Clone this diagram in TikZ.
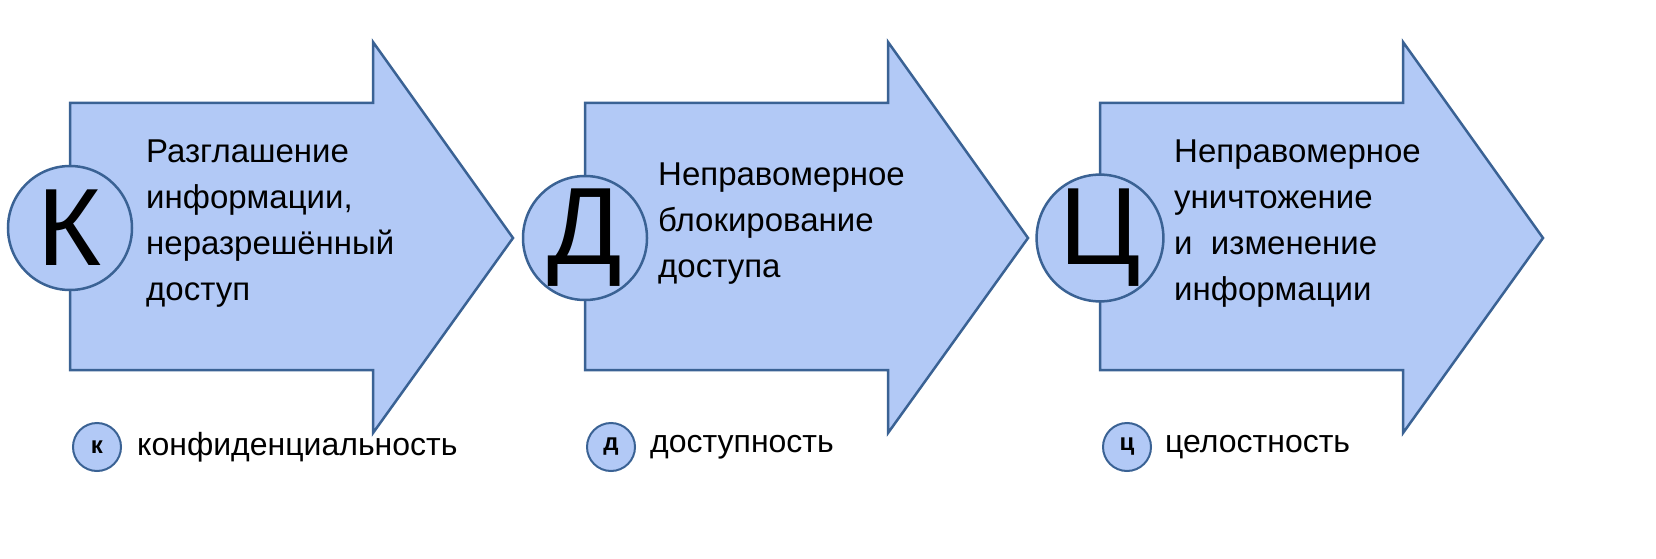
\documentclass[tikz,border=0pt]{standalone}
\usepackage{fontspec}
\setmainfont{Liberation Sans}
\definecolor{fillb}{RGB}{178,201,246}
\definecolor{lineb}{RGB}{58,98,148}
\begin{document}
\begin{tikzpicture}[x=1pt,y=-1pt,
  arr/.style={fill=fillb,draw=lineb,line width=2.5pt,line join=miter},
  bigc/.style={circle,fill=fillb,draw=lineb,line width=2.5pt,minimum size=124pt,inner sep=0pt,font=\fontsize{110}{110}\selectfont},
  smallc/.style={circle,fill=fillb,draw=lineb,line width=2pt,minimum size=48pt,inner sep=0pt,font=\fontsize{24}{24}\selectfont\bfseries},
  txt/.style={anchor=north west,align=left,font=\fontsize{33}{46}\selectfont,inner sep=0pt},
  leg/.style={anchor=west,font=\fontsize{32}{32}\selectfont,inner sep=0pt}]
\fill[white] (0,0) rectangle (1656,559);
\foreach \x in {0,515,1030}{
  \draw[arr] (70+\x,103) -- (373+\x,103) -- (373+\x,42) -- (513+\x,238) -- (373+\x,433) -- (373+\x,370) -- (70+\x,370) -- cycle;
}
\node[bigc] (ck) at (70,228) {К};
\node[bigc] (cd) at (585,238) {Д};
\node[bigc] (cc) at (1100,238) {Ц};
\node[txt] (tk) at (146,140) {Разглашение\\информации,\\неразрешённый\\доступ};
\node[txt] (td) at (658,163) {Неправомерное\\блокирование\\доступа};
\node[txt] (tc) at (1174,140) {Неправомерное\\уничтожение\\и\ \ изменение\\информации};
\node[smallc] (sk) at (97,447) {к};
\node[smallc] (sd) at (611,447) {д};
\node[smallc] (sc) at (1127,447) {ц};
\node[leg] (lk) at (137,447) {конфиденциальность};
\node[leg] (ld) at (650,447) {доступность};
\node[leg] (lc) at (1165,447) {целостность};
\pgfresetboundingbox
\useasboundingbox (0,0) rectangle (1656,559);
\end{tikzpicture}
\end{document}
